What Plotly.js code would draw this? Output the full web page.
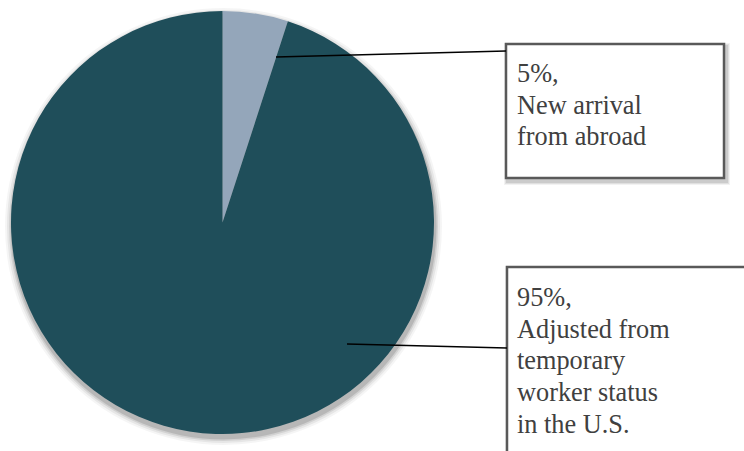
<!DOCTYPE html>
<html>
<head>
<meta charset="utf-8">
<script src="https://cdn.plot.ly/plotly-3.0.1.min.js"></script>
<style>html,body{margin:0;padding:0;background:#fff;}#chart{width:744px;height:451px;}</style>
</head>
<body>
<div id="chart"></div>
<script>
const categories = ["New arrival from abroad", "Adjusted from temporary worker status in the U.S."];
const values = [5, 95];
const labelTexts = ["5%,<br>New arrival<br>from abroad", "95%,<br>Adjusted from<br>temporary<br>worker status<br>in the U.S."];
const colors = ["#94a6ba", "#1f4e5a"];

const W = 744, H = 451;
const px = x => x / W;
const py = y => 1 - y / H;

const cx = 222.5, cy = 222.5, r = 211.5;
const serif = "'Liberation Serif', 'Times New Roman', Times, serif";
const fontSize = 26.3;
const lineStep = 31.7;

const shapes = [];
// pie shadow
const shadowLayers = [[7, 0.04], [5, 0.06], [3, 0.09], [1.5, 0.12]];
shadowLayers.forEach(([g, a]) => {
  shapes.push({type: "circle", xref: "paper", yref: "paper", layer: "below",
    x0: px(cx - r - g + 1), x1: px(cx + r + g + 1), y0: py(cy - r - g + 4), y1: py(cy + r + g + 4),
    fillcolor: "rgba(0,0,0," + a + ")", line: {width: 0}});
});
// box shadows
function boxShadow(x0, y0, x1, y1) {
  [[4, 0.05], [3, 0.07], [2, 0.09]].forEach(([g, a]) => {
    shapes.push({type: "rect", xref: "paper", yref: "paper", layer: "below",
      x0: px(x0 - g + 2), x1: px(x1 + g + 2), y0: py(y0 - g + 3), y1: py(y1 + g + 3),
      fillcolor: "rgba(0,0,0," + a + ")", line: {width: 0}});
  });
}
boxShadow(506, 44, 724, 178);
boxShadow(507, 267, 770, 480);
// boxes
shapes.push({type: "rect", xref: "paper", yref: "paper", x0: px(506), x1: px(724), y0: py(44), y1: py(178),
  fillcolor: "#ffffff", line: {color: "#595959", width: 2.5}, layer: "below"});
shapes.push({type: "rect", xref: "paper", yref: "paper", x0: px(507), x1: px(770), y0: py(267), y1: py(480),
  fillcolor: "#ffffff", line: {color: "#595959", width: 2.5}, layer: "below"});
// leader lines
shapes.push({type: "line", xref: "paper", yref: "paper", x0: px(276), y0: py(57), x1: px(506), y1: py(51),
  line: {color: "#000000", width: 1.5}});
shapes.push({type: "line", xref: "paper", yref: "paper", x0: px(347), y0: py(344), x1: px(507), y1: py(348),
  line: {color: "#000000", width: 1.5}});

// label lines placed one per annotation so the line spacing matches
const labelPos = [{x: 515, baseline: 82.5}, {x: 515, baseline: 306.5}];
const annotations = [];
labelTexts.forEach((t, i) => {
  t.split("<br>").forEach((line, j) => {
    const base = labelPos[i].baseline + j * lineStep;
    annotations.push({text: line, xref: "paper", yref: "paper", x: px(labelPos[i].x), y: py(base - 25.5),
      xanchor: "left", yanchor: "top", align: "left", showarrow: false,
      font: {family: serif, size: fontSize, color: "#404040"}});
  });
});

const data = [{
  type: "pie",
  labels: categories,
  values: values,
  sort: false,
  direction: "clockwise",
  rotation: 0,
  textinfo: "none",
  hoverinfo: "label+percent",
  marker: {colors: colors, line: {width: 0}},
  domain: {x: [px(cx - r), px(cx + r)], y: [py(cy + r), py(cy - r)]},
  showlegend: false
}];

const layout = {
  width: W, height: H,
  margin: {l: 0, r: 0, t: 0, b: 0},
  paper_bgcolor: "#ffffff",
  plot_bgcolor: "#ffffff",
  showlegend: false,
  font: {family: serif},
  shapes: shapes,
  annotations: annotations
};

Plotly.newPlot("chart", data, layout, {displayModeBar: false, staticPlot: true});
</script>
</body>
</html>
